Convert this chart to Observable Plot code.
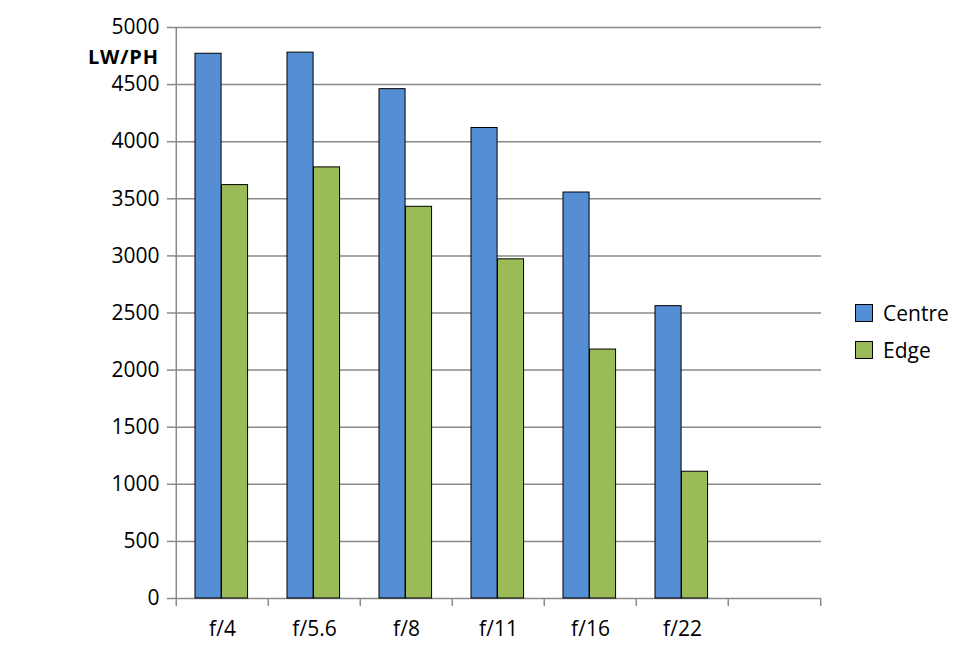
<!DOCTYPE html>
<html>
<head>
<meta charset="utf-8">
<script src="https://cdn.jsdelivr.net/npm/d3@7"></script>
<script src="https://cdn.jsdelivr.net/npm/@observablehq/plot@0.6"></script>
<style>
  html, body { margin: 0; padding: 0; background: #fff; }
  #wrap { position: relative; width: 980px; height: 665px; font-family: "Open Sans", sans-serif; }
  #ylab { position: absolute; left: 88px; top: 48px; font-size: 20px; line-height: 18px; font-weight: bold; color: #000; letter-spacing: 0.8px; }
  #legend { position: absolute; left: 855px; top: 294px; font-size: 21px; color: #000; }
  .li { display: flex; align-items: center; height: 37px; }
  .sw { width: 18px; height: 18px; border: 1px solid #000; margin-right: 10px; box-sizing: border-box; }
</style>
</head>
<body>
<div id="wrap">
  <div id="chart"></div>
  <div id="ylab">LW/PH</div>
  <div id="legend"></div>
</div>
<script>
const apertures = ["f/4", "f/5.6", "f/8", "f/11", "f/16", "f/22"];
const centreValues = [4770, 4780, 4460, 4120, 3555, 2560];
const edgeValues = [3620, 3775, 3430, 2970, 2180, 1110];
const seriesNames = ["Centre", "Edge"];
const seriesColors = ["#558ed5", "#9bbb59"];
const yTicks = [0, 500, 1000, 1500, 2000, 2500, 3000, 3500, 4000, 4500, 5000];

const xDomain = [...apertures, ""];
const W = 980, H = 665, mL = 174, mR = 159, mT = 27, mB = 67;
const bw = (W - mL - mR) / xDomain.length;

const centre = apertures.map((a, i) => ({aperture: a, series: "Centre", value: centreValues[i]}));
const edge = apertures.map((a, i) => ({aperture: a, series: "Edge", value: edgeValues[i]}));

const barW = 26.5, off = 19;

const chart = Plot.plot({
  width: W, height: H,
  marginLeft: mL, marginRight: mR, marginTop: mT, marginBottom: mB,
  style: {fontFamily: "Open Sans, sans-serif", fontSize: "20px", color: "#000", background: "#fff"},
  x: {domain: xDomain, padding: 0, type: "band"},
  y: {domain: [0, 5000]},
  color: {domain: seriesNames, range: seriesColors},
  marks: [
    Plot.gridY(yTicks, {stroke: "#8a8a8a", strokeOpacity: 1, strokeWidth: 1.5}),
    Plot.ruleX([xDomain[0]], {dx: -bw / 2, y1: 0, y2: 5000, stroke: "#8a8a8a", strokeWidth: 1.5}),
    Plot.barY(centre, {x: "aperture", y: "value", fill: "series", stroke: "#000", strokeWidth: 1,
      insetLeft: off, insetRight: bw - off - barW}),
    Plot.barY(edge, {x: "aperture", y: "value", fill: "series", stroke: "#000", strokeWidth: 1,
      insetLeft: off + barW, insetRight: bw - off - 2 * barW}),
    Plot.axisY({ticks: yTicks, tickFormat: "d", tickSize: 7, tickPadding: 8, stroke: "#8a8a8a", strokeWidth: 1.5, fontSize: 21, label: null}),
    Plot.axisX({ticks: xDomain, text: null, tickSize: 8, dx: -bw / 2, stroke: "#8a8a8a", strokeWidth: 1.5, label: null}),
    Plot.axisX({ticks: [""], text: null, tickSize: 8, dx: bw / 2, stroke: "#8a8a8a", strokeWidth: 1.5, label: null}),
    Plot.axisX({ticks: apertures, tickSize: 0, tickPadding: 23, fontSize: 21, label: null})
  ]
});
document.getElementById("chart").appendChild(chart);

const legend = document.getElementById("legend");
seriesNames.forEach((s, i) => {
  const row = document.createElement("div");
  row.className = "li";
  row.innerHTML = `<div class="sw" style="background:${seriesColors[i]}"></div><span>${s}</span>`;
  legend.appendChild(row);
});
</script>
</body>
</html>
